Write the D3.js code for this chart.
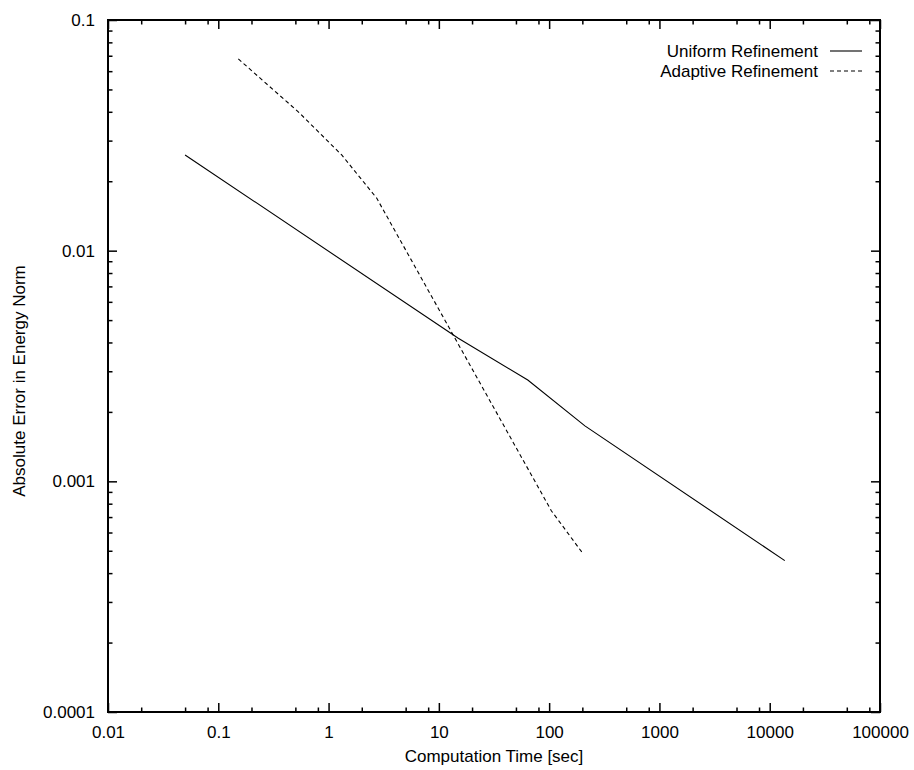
<!DOCTYPE html>
<html>
<head>
<meta charset="utf-8">
<script src="https://cdn.jsdelivr.net/npm/d3@7"></script>
<style>
  body { margin: 0; background: #fff; }
  svg { font-family: "Liberation Sans", Arial, Helvetica, sans-serif; }
  .tick text { font-size: 17px; fill: #000; }
  .tick line { stroke: #000; stroke-width: 1.5; }
</style>
</head>
<body>
<div id="chart"></div>
<script>
// series: time [sec] vs. error in energy norm
const uniformTime  = [0.05, 15, 64, 211, 13700];
const uniformError = [0.026, 0.00417, 0.00275, 0.00174, 0.000453];

const adaptiveTime  = [0.152, 0.531, 1.315, 2.73, 105, 204];
const adaptiveError = [0.0678, 0.040, 0.026, 0.0169, 0.000744, 0.000484];

const seriesNames = ["Uniform Refinement", "Adaptive Refinement"];

const xTicks = [0.01, 0.1, 1, 10, 100, 1000, 10000, 100000];
const xTickLabels = ["0.01", "0.1", "1", "10", "100", "1000", "10000", "100000"];
const yTicks = [0.0001, 0.001, 0.01, 0.1];
const yTickLabels = ["0.0001", "0.001", "0.01", "0.1"];

const xTitle = "Computation Time [sec]";
const yTitle = "Absolute Error in Energy Norm";

const W = 914, H = 770;
const margin = {left: 108, right: 34, top: 20, bottom: 58};
const pw = W - margin.left - margin.right;
const ph = H - margin.top - margin.bottom;

const x = d3.scaleLog().domain([0.01, 100000]).range([0, pw]);
const y = d3.scaleLog().domain([0.0001, 0.1]).range([ph, 0]);

// minor ticks: 2,5,8 on x; 2..9 on y
const xMinor = [];
xTicks.slice(0, -1).forEach(t => [2, 5, 8].forEach(m => xMinor.push(t * m)));
const yMinor = [];
yTicks.slice(0, -1).forEach(t => d3.range(2, 10).forEach(m => yMinor.push(t * m)));

const svg = d3.select("#chart").append("svg")
  .attr("width", W)
  .attr("height", H);

const g = svg.append("g").attr("transform", `translate(${margin.left},${margin.top})`);

const fmt = (labels, ticks) => d => labels[ticks.indexOf(d)];

// major ticks with labels (bottom / left)
g.append("g").attr("transform", `translate(0,${ph})`)
  .call(d3.axisBottom(x).tickValues(xTicks).tickSize(-9).tickPadding(14).tickFormat(fmt(xTickLabels, xTicks)));
g.append("g")
  .call(d3.axisLeft(y).tickValues(yTicks).tickSize(-9).tickPadding(13).tickFormat(fmt(yTickLabels, yTicks)));
// mirrored major ticks (top / right)
g.append("g")
  .call(d3.axisTop(x).tickValues(xTicks).tickSize(-9).tickFormat(""));
g.append("g").attr("transform", `translate(${pw},0)`)
  .call(d3.axisRight(y).tickValues(yTicks).tickSize(-9).tickFormat(""));
// minor ticks
g.append("g").attr("transform", `translate(0,${ph})`)
  .call(d3.axisBottom(x).tickValues(xMinor).tickSize(-4.5).tickFormat(""));
g.append("g")
  .call(d3.axisTop(x).tickValues(xMinor).tickSize(-4.5).tickFormat(""));
g.append("g")
  .call(d3.axisLeft(y).tickValues(yMinor).tickSize(-4.5).tickFormat(""));
g.append("g").attr("transform", `translate(${pw},0)`)
  .call(d3.axisRight(y).tickValues(yMinor).tickSize(-4.5).tickFormat(""));

g.selectAll(".domain").remove();

// frame
g.append("rect")
  .attr("width", pw).attr("height", ph)
  .attr("fill", "none").attr("stroke", "#000").attr("stroke-width", 2);

// curves
const line = d3.line().x(d => x(d[0])).y(d => y(d[1]));
const uniform = uniformTime.map((t, i) => [t, uniformError[i]]);
const adaptive = adaptiveTime.map((t, i) => [t, adaptiveError[i]]);

g.append("path").datum(uniform)
  .attr("d", line)
  .attr("fill", "none").attr("stroke", "#000").attr("stroke-width", 1.1);
g.append("path").datum(adaptive)
  .attr("d", line)
  .attr("fill", "none").attr("stroke", "#000").attr("stroke-width", 1.1)
  .attr("stroke-dasharray", "4,3");

// legend
const legend = g.append("g").attr("transform", `translate(${pw - 62},${31})`);
seriesNames.forEach((name, i) => {
  const row = legend.append("g").attr("transform", `translate(0,${i * 20})`);
  row.append("text")
    .attr("x", 0).attr("y", 0).attr("dy", "0.35em")
    .attr("text-anchor", "end")
    .style("font-size", "17px")
    .text(name);
  row.append("line")
    .attr("x1", 12).attr("x2", 44)
    .attr("stroke", "#000").attr("stroke-width", 1.1)
    .attr("stroke-dasharray", i === 1 ? "4,3" : null);
});

// axis titles
svg.append("text")
  .attr("x", margin.left + pw / 2).attr("y", 762)
  .attr("text-anchor", "middle")
  .style("font-size", "17px")
  .text(xTitle);
svg.append("text")
  .attr("transform", `translate(25,381) rotate(-90)`)
  .attr("text-anchor", "middle")
  .style("font-size", "17px")
  .text(yTitle);
</script>
</body>
</html>
